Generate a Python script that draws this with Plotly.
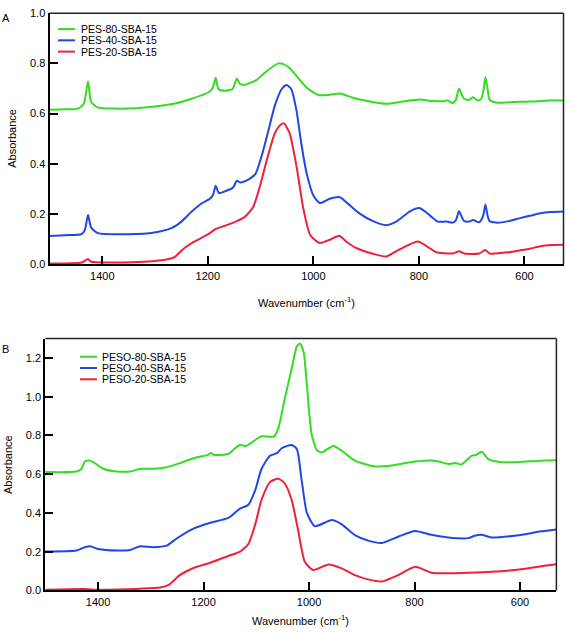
import plotly.graph_objects as go

W, H = 567, 634

# ---------------- Panel A data (PES-x-SBA-15) ----------------
a_pes80_wn = [1500, 1470, 1446, 1435, 1427, 1421, 1408, 1380, 1351, 1320, 1282, 1256, 1231, 1199, 1191, 1185, 1180,
              1168, 1153, 1145, 1139, 1130, 1110, 1088, 1066, 1058, 1045, 1032, 1013, 991, 969, 950, 925, 893, 862,
              830, 799, 774, 750, 746, 736, 730, 724, 718, 714, 705, 697, 689, 682, 677, 674, 670, 666, 654, 630,
              610, 590, 552, 526]
a_pes80_abs = [0.615, 0.617, 0.620, 0.639, 0.728, 0.646, 0.624, 0.620, 0.620, 0.624, 0.633, 0.643, 0.659, 0.684,
               0.701, 0.743, 0.698, 0.691, 0.698, 0.740, 0.718, 0.715, 0.731, 0.770, 0.800, 0.798, 0.782, 0.750,
               0.704, 0.674, 0.675, 0.680, 0.663, 0.648, 0.639, 0.648, 0.656, 0.650, 0.650, 0.653, 0.641, 0.655,
               0.700, 0.672, 0.659, 0.655, 0.665, 0.652, 0.659, 0.700, 0.746, 0.700, 0.655, 0.644, 0.645, 0.647,
               0.648, 0.652, 0.652]

a_pes40_wn = [1500, 1470, 1439, 1433, 1427, 1421, 1408, 1351, 1301, 1269, 1250, 1231, 1212, 1196, 1190, 1185, 1179,
              1165, 1152, 1145, 1139, 1127, 1110, 1098, 1085, 1073, 1060, 1051, 1042, 1032, 1023, 1013, 1000, 988,
              969, 950, 931, 912, 887, 862, 843, 817, 799, 780, 764, 748, 736, 730, 724, 718, 714, 705, 697, 686,
              678, 674, 670, 666, 654, 630, 610, 590, 570, 550, 526]
a_pes40_abs = [0.113, 0.116, 0.120, 0.137, 0.196, 0.146, 0.124, 0.120, 0.127, 0.144, 0.170, 0.209, 0.242, 0.261,
               0.277, 0.313, 0.284, 0.293, 0.306, 0.333, 0.326, 0.333, 0.359, 0.431, 0.534, 0.632, 0.698, 0.714,
               0.698, 0.613, 0.483, 0.365, 0.274, 0.244, 0.261, 0.267, 0.235, 0.202, 0.172, 0.156, 0.170, 0.211,
               0.224, 0.196, 0.170, 0.170, 0.166, 0.175, 0.211, 0.185, 0.172, 0.170, 0.176, 0.167, 0.195, 0.238,
               0.195, 0.172, 0.166, 0.172, 0.183, 0.193, 0.203, 0.208, 0.210]

a_pes20_wn = [1500, 1439, 1427, 1421, 1383, 1320, 1276, 1263, 1244, 1225, 1199, 1185, 1168, 1145, 1130, 1114, 1101,
              1088, 1073, 1062, 1056, 1045, 1032, 1019, 1006, 988, 969, 951, 938, 919, 887, 862, 837, 802, 780, 767,
              736, 724, 714, 686, 674, 666, 630, 610, 590, 570, 550, 526]
a_pes20_abs = [0.003, 0.007, 0.021, 0.010, 0.007, 0.010, 0.020, 0.029, 0.065, 0.091, 0.120, 0.141, 0.153, 0.172,
               0.189, 0.228, 0.313, 0.417, 0.522, 0.556, 0.561, 0.522, 0.391, 0.222, 0.117, 0.085, 0.098, 0.114,
               0.091, 0.065, 0.042, 0.031, 0.059, 0.091, 0.065, 0.048, 0.043, 0.052, 0.043, 0.043, 0.057, 0.043,
               0.048, 0.055, 0.062, 0.072, 0.077, 0.078]

# ---------------- Panel B data (PESO-x-SBA-15) ----------------
b_peso80_wn = [1500, 1441, 1431, 1425, 1415, 1406, 1390, 1365, 1339, 1320, 1295, 1270, 1245, 1213, 1191, 1186, 1181,
               1153, 1143, 1131, 1119, 1105, 1090, 1074, 1066, 1058, 1046, 1033, 1023, 1017, 1010, 1004, 995, 985,
               976, 954, 938, 913, 875, 843, 799, 761, 736, 723, 711, 692, 683, 673, 660, 635, 610, 590, 560, 531]
b_peso80_abs = [0.611, 0.614, 0.628, 0.667, 0.670, 0.657, 0.628, 0.614, 0.614, 0.628, 0.628, 0.636, 0.657, 0.687,
                0.700, 0.710, 0.700, 0.704, 0.727, 0.751, 0.746, 0.771, 0.796, 0.793, 0.795, 0.839, 0.990, 1.143,
                1.261, 1.274, 1.227, 1.058, 0.805, 0.724, 0.712, 0.746, 0.721, 0.670, 0.640, 0.645, 0.665, 0.670,
                0.653, 0.658, 0.650, 0.695, 0.700, 0.716, 0.678, 0.662, 0.662, 0.665, 0.670, 0.672]

b_peso40_wn = [1500, 1441, 1425, 1415, 1400, 1365, 1339, 1320, 1295, 1270, 1251, 1219, 1187, 1153, 1131, 1115, 1102,
               1090, 1074, 1060, 1052, 1033, 1023, 1014, 1004, 989, 957, 938, 913, 888, 862, 831, 799, 768, 736, 698,
               686, 673, 654, 610, 590, 560, 531]
b_peso40_abs = [0.201, 0.206, 0.223, 0.228, 0.214, 0.206, 0.209, 0.228, 0.223, 0.231, 0.268, 0.319, 0.349, 0.374,
                0.422, 0.442, 0.518, 0.628, 0.695, 0.710, 0.734, 0.751, 0.729, 0.569, 0.400, 0.332, 0.363, 0.341,
                0.285, 0.257, 0.245, 0.277, 0.307, 0.287, 0.273, 0.270, 0.282, 0.287, 0.273, 0.282, 0.290, 0.305,
                0.315]

b_peso20_wn = [1500, 1428, 1408, 1320, 1282, 1266, 1245, 1219, 1187, 1153, 1131, 1115, 1102, 1090, 1074, 1058, 1046,
               1033, 1021, 1008, 992, 963, 938, 913, 888, 862, 831, 799, 768, 736, 698, 654, 610, 590, 560, 531]
b_peso20_abs = [0.003, 0.007, 0.004, 0.009, 0.015, 0.029, 0.079, 0.116, 0.143, 0.178, 0.200, 0.240, 0.341, 0.468,
                0.559, 0.577, 0.552, 0.468, 0.316, 0.148, 0.105, 0.134, 0.114, 0.079, 0.057, 0.046, 0.079, 0.122,
                0.091, 0.088, 0.091, 0.096, 0.105, 0.112, 0.125, 0.135]

names_a = ["PES-80-SBA-15", "PES-40-SBA-15", "PES-20-SBA-15"]
names_b = ["PESO-80-SBA-15", "PESO-40-SBA-15", "PESO-20-SBA-15"]
colors = ["#33dd22", "#2146e6", "#f0203a"]

x_ticks = [600, 800, 1000, 1200, 1400]
y_ticks_a = [0.0, 0.2, 0.4, 0.6, 0.8, 1.0]
y_ticks_b = [0.0, 0.2, 0.4, 0.6, 0.8, 1.0, 1.2]

FONT = "Liberation Sans, Arial, Helvetica, sans-serif"

fig = go.Figure()
series_a = [(a_pes80_wn, a_pes80_abs), (a_pes40_wn, a_pes40_abs), (a_pes20_wn, a_pes20_abs)]
series_b = [(b_peso80_wn, b_peso80_abs), (b_peso40_wn, b_peso40_abs), (b_peso20_wn, b_peso20_abs)]
for (wn, ab), nm, c in zip(series_a, names_a, colors):
    fig.add_trace(go.Scatter(x=wn, y=ab, name=nm, mode="lines", xaxis="x", yaxis="y",
                             line=dict(color=c, width=2, shape="spline", smoothing=0.6), showlegend=False))
for (wn, ab), nm, c in zip(series_b, names_b, colors):
    fig.add_trace(go.Scatter(x=wn, y=ab, name=nm, mode="lines", xaxis="x2", yaxis="y2",
                             line=dict(color=c, width=2, shape="spline", smoothing=0.6), showlegend=False))

def px(x):
    return x / W

def py(y):
    return 1 - y / H

# panel pixel boxes (left, right, top, bottom)
A_box = (49.5, 563.5, 7.3, 263.3)
B_box = (45.3, 556.4, 339.0, 595.7)

common_x = dict(showline=True, linewidth=2, linecolor="black", ticks="inside", ticklen=8, tickwidth=2,
                tickcolor="black", tickvals=x_ticks, showgrid=False, zeroline=False,
                tickfont=dict(family=FONT, size=11, color="black"), mirror=False)
common_y = dict(showline=True, linewidth=2, linecolor="black", ticks="inside", ticklen=8, tickwidth=2,
                tickcolor="black", showgrid=False, zeroline=False, tickformat=".1f",
                tickfont=dict(family=FONT, size=11, color="black"), mirror=False)

fig.update_layout(
    width=W, height=H, margin=dict(l=0, r=0, t=0, b=0),
    paper_bgcolor="white", plot_bgcolor="white", showlegend=False,
    font=dict(family=FONT, size=11, color="black"),
    xaxis=dict(domain=[px(A_box[0]), px(A_box[1])], range=[1500, 526], anchor="y", **common_x),
    yaxis=dict(domain=[py(A_box[3]), py(A_box[2])], range=[0, 1.0], anchor="x", tickvals=y_ticks_a, **common_y),
    xaxis2=dict(domain=[px(B_box[0]), px(B_box[1])], range=[1500, 531], anchor="y2", **common_x),
    yaxis2=dict(domain=[py(B_box[3]), py(B_box[2])], range=[0, 1.30], anchor="x2", tickvals=y_ticks_b, **common_y),
)

shapes = []
for xr, yr in (("x", "y"), ("x2", "y2")):
    shapes.append(dict(type="line", xref=f"{xr} domain", yref=f"{yr} domain", x0=0, x1=1, y0=1, y1=1,
                       line=dict(color="#222", width=1.5)))
    shapes.append(dict(type="line", xref=f"{xr} domain", yref=f"{yr} domain", x0=1, x1=1, y0=0, y1=1,
                       line=dict(color="#222", width=1.5)))

annotations = []
# manual legends (swatch + label)
leg_a = dict(x0=58, x1=75, xt=80, rows=[23.5, 35, 46.5])
leg_b = dict(x0=80, x1=97, xt=101, rows=[357.5, 369, 380.5])
for leg, names in ((leg_a, names_a), (leg_b, names_b)):
    for yy, nm, c in zip(leg["rows"], names, colors):
        shapes.append(dict(type="line", xref="paper", yref="paper", x0=px(leg["x0"]), x1=px(leg["x1"]),
                           y0=py(yy), y1=py(yy), line=dict(color=c, width=2)))
        annotations.append(dict(text=nm, xref="paper", yref="paper", x=px(leg["xt"]), y=py(yy),
                                xanchor="left", yanchor="middle", showarrow=False, borderpad=0,
                                font=dict(family=FONT, size=10.5, color="black")))

# panel letters
annotations.append(dict(text="A", xref="paper", yref="paper", x=px(5.5), y=py(12.3), xanchor="center",
                        yanchor="middle", showarrow=False, font=dict(family=FONT, size=11)))
annotations.append(dict(text="B", xref="paper", yref="paper", x=px(5.0), y=py(350), xanchor="center",
                        yanchor="middle", showarrow=False, font=dict(family=FONT, size=11)))
# axis titles
for xc, yc in ((12, (A_box[2] + A_box[3]) / 2), (7.5, (B_box[2] + B_box[3]) / 2)):
    annotations.append(dict(text="Absorbance", xref="paper", yref="paper", x=px(xc), y=py(yc), textangle=-90,
                            xanchor="center", yanchor="middle", showarrow=False, font=dict(family=FONT, size=11)))
for xc, yc in (((A_box[0] + A_box[1]) / 2, 302), ((B_box[0] + B_box[1]) / 2, 626)):
    annotations.append(dict(text="Wavenumber (cm<sup>-1</sup>)", xref="paper", yref="paper", x=px(xc), y=py(yc),
                            xanchor="center", yanchor="middle", showarrow=False, borderpad=0,
                            font=dict(family=FONT, size=11)))

fig.update_layout(shapes=shapes, annotations=annotations)
fig.write_html("out.html", config={"displayModeBar": False},
               post_script="document.body.style.margin='0px';document.body.style.overflow='hidden';")
